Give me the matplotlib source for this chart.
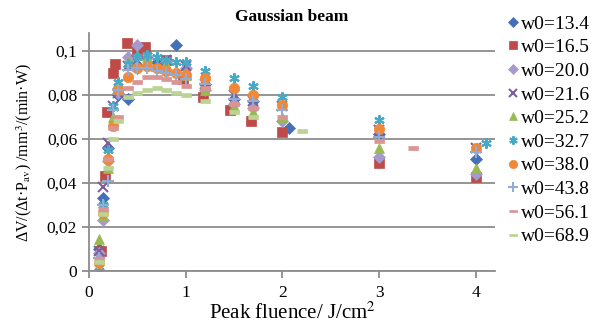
import numpy as np
import matplotlib
matplotlib.use('Agg')
from matplotlib import pyplot as plt

plt.rcParams['font.family'] = ['Liberation Serif', 'DejaVu Serif']
plt.rcParams['mathtext.fontset'] = 'stix'

# fluence values / J/cm2 and removal rates for each beam waist
x134 = [0.1, 0.15, 0.2, 0.3, 0.4, 0.5, 0.7, 0.9, 1.2, 1.5, 1.7, 2.07, 3.0, 4.0]
y134 = [0.010, 0.033, 0.056, 0.080, 0.078, 0.092, 0.095, 0.1027, 0.085, 0.078, 0.077, 0.065, 0.062, 0.051]

x165 = [0.12, 0.17, 0.19, 0.25, 0.27, 0.39, 0.5, 0.58, 0.8, 0.97, 1.18, 1.46, 1.68, 2.0, 3.0, 4.0]
y165 = [0.009, 0.043, 0.072, 0.090, 0.094, 0.1036, 0.100, 0.1015, 0.096, 0.087, 0.079, 0.073, 0.068, 0.063, 0.049, 0.0425]

x200 = [0.1, 0.15, 0.2, 0.3, 0.4, 0.5, 0.6, 0.8, 1.0, 1.2, 1.5, 1.7, 2.0, 3.0, 4.0]
y200 = [0.008, 0.023, 0.050, 0.081, 0.097, 0.1027, 0.097, 0.095, 0.092, 0.082, 0.076, 0.074, 0.068, 0.052, 0.044]

x216 = [0.1, 0.15, 0.2, 0.25, 0.3, 0.4, 0.5, 0.6, 0.8, 1.0, 1.2, 1.5, 1.7, 2.0, 3.0, 4.0]
y216 = [0.009, 0.038, 0.058, 0.075, 0.081, 0.093, 0.096, 0.095, 0.096, 0.093, 0.085, 0.080, 0.077, 0.075, 0.064, 0.056]

x252 = [0.1, 0.15, 0.2, 0.25, 0.3, 0.4, 0.5, 0.6, 0.8, 1.0, 1.2, 1.5, 1.7, 2.0, 3.0, 4.0]
y252 = [0.0146, 0.025, 0.047, 0.070, 0.086, 0.095, 0.098, 0.097, 0.094, 0.089, 0.082, 0.075, 0.072, 0.070, 0.0557, 0.047]

x327 = [0.1, 0.15, 0.2, 0.25, 0.3, 0.4, 0.5, 0.6, 0.7, 0.8, 0.9, 1.0, 1.2, 1.5, 1.7, 2.0, 3.0, 4.1]
y327 = [0.0, 0.030, 0.055, 0.075, 0.086, 0.094, 0.097, 0.098, 0.097, 0.096, 0.095, 0.095, 0.091, 0.0877, 0.084, 0.079, 0.0685, 0.058]

x380 = [0.1, 0.15, 0.2, 0.25, 0.3, 0.4, 0.5, 0.6, 0.7, 0.8, 0.9, 1.0, 1.2, 1.5, 1.7, 2.0, 3.0, 4.0]
y380 = [0.0037, 0.0265, 0.051, 0.066, 0.082, 0.088, 0.092, 0.093, 0.092, 0.091, 0.090, 0.089, 0.0877, 0.083, 0.080, 0.0755, 0.0644, 0.056]

x438 = [0.1, 0.15, 0.2, 0.25, 0.3, 0.4, 0.5, 0.6, 0.7, 0.8, 0.9, 1.0, 1.2, 1.5, 1.7, 2.0, 3.0, 4.0]
y438 = [0.006, 0.030, 0.041, 0.073, 0.082, 0.0913, 0.092, 0.092, 0.091, 0.090, 0.089, 0.087, 0.085, 0.078, 0.077, 0.073, 0.061, 0.054]

x561 = [0.1, 0.15, 0.2, 0.25, 0.3, 0.4, 0.5, 0.6, 0.7, 0.8, 0.9, 1.0, 1.2, 1.5, 1.7, 2.0, 3.0, 3.35]
y561 = [0.005, 0.028, 0.0507, 0.065, 0.070, 0.083, 0.086, 0.088, 0.088, 0.087, 0.086, 0.084, 0.083, 0.076, 0.074, 0.070, 0.059, 0.056]

x689 = [0.1, 0.15, 0.2, 0.25, 0.3, 0.4, 0.5, 0.6, 0.7, 0.8, 0.9, 1.0, 1.2, 1.5, 1.7, 2.2]
y689 = [0.004, 0.026, 0.047, 0.060, 0.068, 0.079, 0.081, 0.082, 0.083, 0.082, 0.081, 0.080, 0.077, 0.072, 0.070, 0.0635]

labels = ['w0=13.4', 'w0=16.5', 'w0=20.0', 'w0=21.6', 'w0=25.2',
          'w0=32.7', 'w0=38.0', 'w0=43.8', 'w0=56.1', 'w0=68.9']

dash = [(-1, -0.35), (1, -0.35), (1, 0.35), (-1, 0.35)]

series = [
    (x134, y134, 'D', '#4470B5', 6.5),
    (x165, y165, 's', '#BE4B48', 7.5),
    (x200, y200, 'D', '#A799CB', 6.5),
    (x216, y216, 'x', '#7D5FA0', 6.5),
    (x252, y252, '^', '#98B954', 7.5),
    (x327, y327, (6, 2, 0), '#46AAC5', 7.5),
    (x380, y380, 'o', '#F0883A', 7.5),
    (x438, y438, '+', '#93ACD5', 8.5),
    (x561, y561, dash, '#D99593', 6.5),
    (x689, y689, dash, '#BBD394', 7.5),
]

fig = plt.figure(figsize=(6.01, 3.31), dpi=100)
ax = fig.add_axes([0.148, 0.181, 0.676, 0.719])

for (xs, ys, m, c, ms), lab in zip(series, labels):
    lw = 1.5 if m in ('x', '+') or isinstance(m, tuple) else 0.5
    ax.plot(xs, ys, linestyle='none', marker=m, color=c, markersize=ms,
            markeredgewidth=lw, markeredgecolor=c, label=lab)

ax.set_xlim(0, 4.2)
ax.set_ylim(0, 0.108)
ax.set_xticks([0, 1, 2, 3, 4])
ax.set_yticks([0, 0.02, 0.04, 0.06, 0.08, 0.1])
ax.set_yticklabels(['0', '0,02', '0,04', '0,06', '0,08', '0,1'])
ax.grid(axis='y', color='#8c8c8c', linewidth=1.3)
ax.set_axisbelow(True)
for s in ['top', 'right']:
    ax.spines[s].set_visible(False)
for s in ['left', 'bottom']:
    ax.spines[s].set_color('#8c8c8c')
    ax.spines[s].set_linewidth(1.3)
ax.tick_params(colors='#8c8c8c', labelcolor='black', labelsize=12.5, length=5, width=1.3)
ax.tick_params(axis='x', pad=5)

ax.set_xlabel('Peak fluence/ J/cm$^2$', fontsize=15, labelpad=1)
ax.set_ylabel('ΔV/(Δt·P$_{\\rm av}$) /mm$^3$/(min·W)', fontsize=11.5, labelpad=9)
ax.set_title('Gaussian beam', fontsize=12.5, fontweight='bold', pad=9)

ax.legend(loc='upper left', bbox_to_anchor=(1.0, 1.125), frameon=False,
          fontsize=14, handlelength=0.6, handletextpad=0.15, labelspacing=0.31,
          borderaxespad=0.2, markerscale=0.8)

plt.savefig('out.png', dpi=100)
